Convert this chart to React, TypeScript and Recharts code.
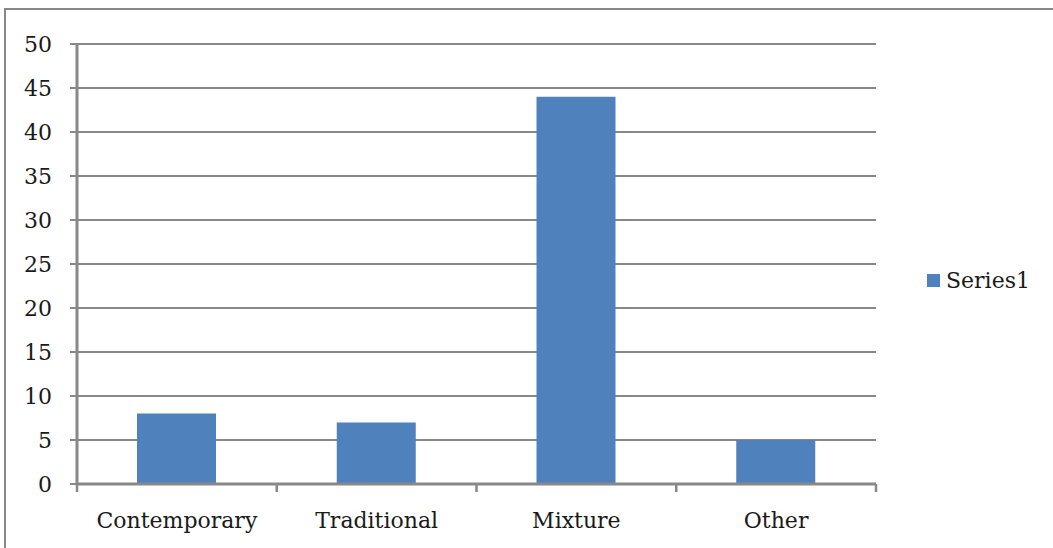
import { Bar, BarChart, CartesianGrid, XAxis, YAxis } from 'recharts'

const categories = ['Contemporary', 'Traditional', 'Mixture', 'Other']
const series1 = [8, 7, 44, 5]
const yTicks = [0, 5, 10, 15, 20, 25, 30, 35, 40, 45, 50]
const seriesName = 'Series1'

const data = categories.map((name, i) => ({ name, value: series1[i] }))

const gray = '#888888'
const blue = '#4F81BD'
const font = '"DejaVu Serif", serif'

function CatTick(props: any) {
  const { x, y, payload, index, visibleTicksCount, width } = props
  const half = payload?.offset ?? width / visibleTicksCount / 2
  const last = index === visibleTicksCount - 1
  return (
    <g>
      <line x1={x - half} x2={x - half} y1={y} y2={y + 8} stroke={gray} strokeWidth={2.5} />
      {last && <line x1={x + half} x2={x + half} y1={y} y2={y + 8} stroke={gray} strokeWidth={2.5} />}
      <text x={x} y={y + 28} dy="0.71em" textAnchor="middle" fontSize={22} fontFamily={font} fill="#1a1a1a">
        {payload.value}
      </text>
    </g>
  )
}

export default function App() {
  return (
    <div style={{ position: 'fixed', left: 0, top: 0, width: 1053, height: 548, background: '#fff', overflow: 'hidden' }}>
      <div
        style={{
          position: 'absolute',
          left: 4,
          top: 8,
          width: 1200,
          height: 700,
          borderLeft: `2px solid ${gray}`,
          borderTop: `2px solid ${gray}`,
        }}
      />
      <div style={{ position: 'absolute', left: 0, top: 0 }}>
        <BarChart width={1053} height={548} data={data} margin={{ top: 44, right: 177, left: 0, bottom: 0 }} barSize={79}>
          <CartesianGrid horizontal vertical={false} stroke={gray} strokeWidth={2} />
          <XAxis
            dataKey="name"
            height={64}
            tickSize={0}
            tickMargin={0}
            tickLine={false}
            axisLine={{ stroke: gray, strokeWidth: 3 }}
            tick={<CatTick />}
            interval={0}
          />
          <YAxis
            width={77}
            domain={[0, 50]}
            ticks={yTicks}
            interval={0}
            tickSize={7}
            tickMargin={18}
            tickLine={{ stroke: gray, strokeWidth: 2 }}
            axisLine={{ stroke: gray, strokeWidth: 3 }}
            tick={{ fontSize: 22, fontFamily: font, fill: '#1a1a1a' }}
          />
          <Bar dataKey="value" name={seriesName} fill={blue} isAnimationActive={false} />
        </BarChart>
      </div>
      <div
        style={{
          position: 'absolute',
          left: 927,
          top: 268,
          display: 'flex',
          alignItems: 'center',
          fontFamily: font,
          fontSize: 22,
          color: '#1a1a1a',
        }}
      >
        <span style={{ display: 'inline-block', width: 13, height: 13, background: blue, marginRight: 6 }} />
        {seriesName}
      </div>
    </div>
  )
}
